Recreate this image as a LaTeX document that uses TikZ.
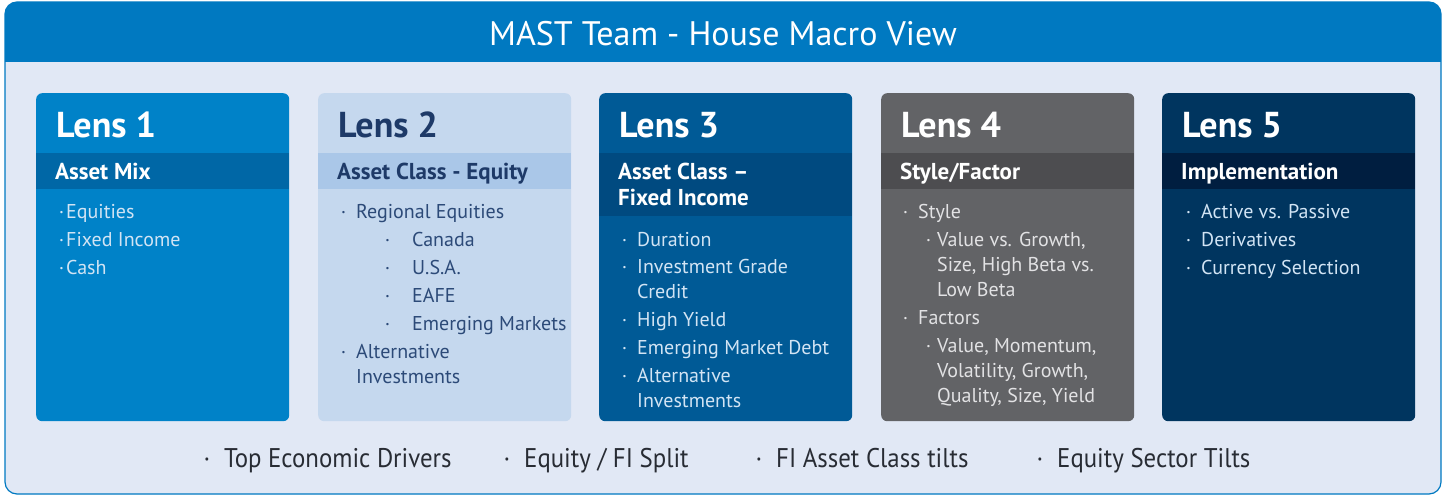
\documentclass[tikz,border=0pt]{standalone}
\usepackage{fontspec}
\setmainfont{PT Sans}
\newfontfamily\footfont[FakeStretch=0.92]{PT Sans}
\usetikzlibrary{positioning}

\definecolor{headblue}{RGB}{0,121,193}
\definecolor{paleback}{RGB}{225,232,245}
\definecolor{lensA}{RGB}{0,130,200}
\definecolor{bandA}{RGB}{0,103,166}
\definecolor{lensB}{RGB}{197,216,238}
\definecolor{bandB}{RGB}{170,199,232}
\definecolor{lensC}{RGB}{0,90,150}
\definecolor{bandC}{RGB}{0,74,128}
\definecolor{lensD}{RGB}{98,99,102}
\definecolor{bandD}{RGB}{77,77,80}
\definecolor{lensE}{RGB}{0,53,95}
\definecolor{bandE}{RGB}{0,30,64}
\definecolor{navytxt}{RGB}{30,58,104}
\definecolor{itemB}{RGB}{44,74,120}
\definecolor{itemlight}{RGB}{210,228,244}
\definecolor{itemgrey}{RGB}{226,226,228}
\definecolor{foottxt}{RGB}{40,44,52}

\tikzset{
  card/.style={rectangle, rounded corners=6pt, minimum width=253pt,
    minimum height=328pt, anchor=north west, inner sep=0pt},
  band/.style={rectangle, minimum width=253pt, anchor=north west, inner sep=0pt},
  lenstitle/.style={anchor=base west, inner sep=0pt,
    font=\fontsize{36}{40}\selectfont\bfseries},
  subtitle/.style={anchor=base west, inner sep=0pt,
    font=\fontsize{23}{26}\selectfont\bfseries},
  itm/.style={anchor=base west, inner sep=0pt,
    font=\fontsize{20}{25}\selectfont},
  foot/.style={anchor=base west, inner sep=0pt, text=foottxt,
    font=\fontsize{27}{30}\footfont}
}
\newcommand{\dotA}[1]{\llap{·\hspace{#1pt}}}
\newcommand{\rows}[1]{\begin{tabular}[t]{@{}l@{}}#1\end{tabular}}

\begin{document}
\begin{tikzpicture}[x=1pt, y=-1pt]
  \useasboundingbox (0,0) rectangle (1447,497);

  % frame and header
  \fill[paleback, rounded corners=12pt] (5,2) rectangle (1441,494);
  \begin{scope}
    \clip[rounded corners=12pt] (5,2) rectangle (1441,494);
    \fill[headblue] (5,2) rectangle (1441,62);
  \end{scope}
  \draw[headblue, line width=1.2pt, rounded corners=12pt] (5,2) rectangle (1441,494);
  \node[anchor=base, inner sep=0pt, text=white,
    font=\fontsize{34}{38}\selectfont] (head) at (723,46) {MAST Team - House Macro View};

  % the five lenses
  \foreach \i/\x/\bg/\bd/\fg/\h in {1/36/lensA/bandA/white/36, 2/318/lensB/bandB/navytxt/36,
      3/599/lensC/bandC/white/63, 4/881/lensD/bandD/white/36, 5/1162/lensE/bandE/white/36} {
    \node[card, fill=\bg] (lens\i) at (\x,93) {};
    \node[band, fill=\bd, minimum height=\h pt] (band\i) at (\x,153) {};
    \node[lenstitle, text=\fg] (title\i) at (\x+20,138) {Lens \i};
  }

  \node[subtitle, text=white] (sub1) at (55,180) {Asset Mix};
  \node[subtitle, text=navytxt] (sub2) at (337,180) {Asset Class - Equity};
  \node[subtitle, text=white] (sub3) at (618,180) {\rows{Asset Class –\\[-0.5pt]Fixed Income}};
  \node[subtitle, text=white] (sub4) at (900,180) {Style/Factor};
  \node[subtitle, text=white] (sub5) at (1181,180) {Implementation};

  % lens 1
  \node[itm, text=itemlight] (a1) at (66,218) {\dotA{2}Equities};
  \node[itm, text=itemlight] (a2) at (66,246) {\dotA{2}Fixed Income};
  \node[itm, text=itemlight] (a3) at (66,274) {\dotA{2}Cash};

  % lens 2
  \node[itm, text=itemB] (b1) at (356,218) {\dotA{10}Regional Equities};
  \node[itm, text=itemB] (b2) at (412,246) {\dotA{22}Canada};
  \node[itm, text=itemB] (b3) at (412,274) {\dotA{22}U.S.A.};
  \node[itm, text=itemB] (b4) at (412,302) {\dotA{22}EAFE};
  \node[itm, text=itemB] (b5) at (412,330) {\dotA{22}Emerging Markets};
  \node[itm, text=itemB] (b6) at (356,358) {\dotA{10}\rows{Alternative\\Investments}};

  % lens 3
  \node[itm, text=itemlight] (c1) at (637,246) {\dotA{10}Duration};
  \node[itm, text=itemlight] (c2) at (637,273) {\dotA{10}\rows{Investment Grade\\Credit}};
  \node[itm, text=itemlight] (c3) at (637,326) {\dotA{10}High Yield};
  \node[itm, text=itemlight] (c4) at (637,354) {\dotA{10}Emerging Market Debt};
  \node[itm, text=itemlight] (c5) at (637,382) {\dotA{10}\rows{Alternative\\Investments}};

  % lens 4
  \node[itm, text=itemgrey] (d1) at (918,218) {\dotA{10}Style};
  \node[itm, text=itemgrey] (d2) at (937,246) {\dotA{6}\rows{Value vs. Growth,\\Size, High Beta vs.\\Low Beta}};
  \node[itm, text=itemgrey] (d3) at (918,324) {\dotA{10}Factors};
  \node[itm, text=itemgrey] (d4) at (937,352) {\dotA{6}\rows{Value, Momentum,\\Volatility, Growth,\\Quality, Size, Yield}};

  % lens 5
  \node[itm, text=itemlight] (e1) at (1201,218) {\dotA{10}Active vs. Passive};
  \node[itm, text=itemlight] (e2) at (1201,246) {\dotA{10}Derivatives};
  \node[itm, text=itemlight] (e3) at (1201,274) {\dotA{10}Currency Selection};

  % footer drivers
  \node[foot] (f1) at (224,467) {\dotA{14}Top Economic Drivers};
  \node[foot] (f2) at (524,467) {\dotA{14}Equity / FI Split};
  \node[foot] (f3) at (776,467) {\dotA{14}FI Asset Class tilts};
  \node[foot] (f4) at (1057,467) {\dotA{14}Equity Sector Tilts};
\end{tikzpicture}
\end{document}
